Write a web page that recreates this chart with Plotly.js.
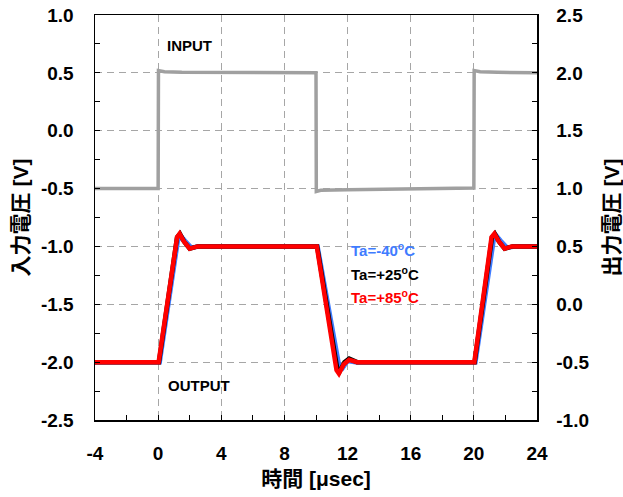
<!DOCTYPE html>
<html><head><meta charset="utf-8">
<script src="https://cdn.plot.ly/plotly-3.0.1.min.js"></script>
<style>html,body{margin:0;padding:0;background:#fff}#chart{width:623px;height:497px}</style>
</head><body><div id="chart"></div>
<script>
// Input waveform (left axis)
const tIn = [-4, 0, 0.02, 0.4, 1.5, 10, 10.02, 10.3, 12, 20, 20.02, 20.4, 21.5, 24];
const vIn = [-0.5, -0.5, 0.52, 0.51, 0.505, 0.5, -0.525, -0.515, -0.51, -0.495, 0.52, 0.51, 0.505, 0.5];

// Output waveforms (right axis)
const tM40 = [-4, 0, 0.1, 1.25, 1.45, 1.7, 2.1, 2.6, 3.2, 10, 10.1, 11.45, 11.7, 12.0, 12.5, 13.2, 20, 20.1, 21.25, 21.45, 21.7, 22.1, 22.6, 23.2, 24];
const vM40 = [-0.5, -0.5, -0.5, 0.55, 0.59, 0.55, 0.49, 0.5, 0.5, 0.5, 0.5, -0.52, -0.55, -0.49, -0.5, -0.5, -0.5, -0.5, 0.55, 0.59, 0.55, 0.49, 0.5, 0.5, 0.5];

const t25 = [-4, 0, 0.05, 1.2, 1.38, 1.65, 2.0, 2.5, 3.2, 10, 10.07, 11.35, 11.5, 11.8, 12.1, 12.6, 13.2, 20, 20.05, 21.15, 21.33, 21.6, 21.95, 22.45, 23.2, 24];
const v25 = [-0.5, -0.5, -0.5, 0.58, 0.61, 0.54, 0.48, 0.5, 0.5, 0.5, 0.5, -0.56, -0.58, -0.5, -0.47, -0.5, -0.5, -0.5, -0.5, 0.58, 0.61, 0.54, 0.48, 0.5, 0.5, 0.5];

const t85 = [-4, 0, 0.03, 1.2, 1.36, 1.6, 2.0, 2.5, 3.2, 10, 10.05, 11.3, 11.45, 11.75, 12.1, 12.6, 13.2, 20, 20.03, 21.12, 21.3, 21.55, 21.95, 22.4, 23.2, 24];
const v85 = [-0.5, -0.5, -0.5, 0.58, 0.61, 0.55, 0.48, 0.5, 0.5, 0.5, 0.5, -0.57, -0.6, -0.52, -0.48, -0.5, -0.5, -0.5, -0.5, 0.58, 0.61, 0.55, 0.48, 0.5, 0.5, 0.5];

const xTicks = [-4, 0, 4, 8, 12, 16, 20, 24];
const yLeftTicks = [-2.5, -2.0, -1.5, -1.0, -0.5, 0.0, 0.5, 1.0];
const yRightTicks = [-1.0, -0.5, 0.0, 0.5, 1.0, 1.5, 2.0, 2.5];
const seriesNames = ['Ta=-40<sup>o</sup>C', 'Ta=+25<sup>o</sup>C', 'Ta=+85<sup>o</sup>C'];

const FONT = 'Arial, "Liberation Sans", "Noto Sans CJK JP", sans-serif';
const TFONT = 'Arial, "Liberation Sans", "Noto Sans CJK JP", sans-serif';
const fmt = v => v.toFixed(1);

const traces = [
  {x: tIn, y: vIn, mode: 'lines', line: {color: '#a0a0a0', width: 3.5}, yaxis: 'y'},
  {x: tM40, y: vM40, mode: 'lines', line: {color: '#3f7cff', width: 4.5}, yaxis: 'y2'},
  {x: t25, y: v25, mode: 'lines', line: {color: '#000000', width: 4.5}, yaxis: 'y2'},
  {x: t85, y: v85, mode: 'lines', line: {color: '#ff0000', width: 4.5}, yaxis: 'y2'}
];

const gridStyle = {gridcolor: '#a6a6a6', griddash: '7px,5px', gridwidth: 1};

const layout = {
  width: 623, height: 497,
  margin: {l: 95, r: 86, t: 15, b: 77},
  paper_bgcolor: '#fff', plot_bgcolor: '#fff',
  showlegend: false,
  font: {family: FONT, size: 19, color: '#000'},
  xaxis: Object.assign({
    range: [-4, 24], tickvals: xTicks, ticktext: xTicks.map(String),
    showline: true, linecolor: '#000', linewidth: 1.5, mirror: true,
    ticks: 'inside', ticklen: 5, tickcolor: '#000',
    minor: {dtick: 2, tick0: 0, ticks: 'inside', ticklen: 5, tickcolor: '#000', showgrid: false},
    zeroline: false, showgrid: true,
    ticklabelstandoff: 16,
    tickfont: {family: FONT, size: 19, weight: 'bold'},
    title: {text: '時間 [μsec]', font: {family: TFONT, size: 21, weight: 'bold'}, standoff: 8}
  }, gridStyle),
  yaxis: Object.assign({
    range: [-2.5, 1.0], tickvals: yLeftTicks, ticktext: yLeftTicks.map(fmt),
    showline: true, linecolor: '#000', linewidth: 1.5,
    ticks: 'inside', ticklen: 5, tickcolor: '#000',
    minor: {dtick: 0.25, tick0: 0, ticks: 'inside', ticklen: 5, tickcolor: '#000', showgrid: false},
    zeroline: false, showgrid: true,
    ticklabelstandoff: 16,
    tickfont: {family: FONT, size: 19, weight: 'bold'},
    title: {text: '入力電圧 [V]', font: {family: TFONT, size: 21, weight: 'bold'}, standoff: 6}
  }, gridStyle),
  yaxis2: {
    range: [-1.0, 2.5], tickvals: yRightTicks, ticktext: yRightTicks.map(fmt),
    overlaying: 'y', side: 'right', anchor: 'x',
    showline: true, linecolor: '#000', linewidth: 1.5,
    ticks: 'inside', ticklen: 5, tickcolor: '#000',
    minor: {dtick: 0.25, tick0: 0, ticks: 'inside', ticklen: 5, tickcolor: '#000', showgrid: false},
    zeroline: false, showgrid: false,
    ticklabelstandoff: 14,
    tickfont: {family: FONT, size: 19, weight: 'bold'},
    title: {text: '出力電圧 [V]', font: {family: TFONT, size: 21, weight: 'bold'}, standoff: 22}
  },
  annotations: [
    {x: 2.0, y: 0.74, xref: 'x', yref: 'y', text: 'INPUT', showarrow: false, font: {family: FONT, size: 15, weight: 'bold', color: '#000'}},
    {x: 2.6, y: -2.2, xref: 'x', yref: 'y', text: 'OUTPUT', showarrow: false, font: {family: FONT, size: 15, weight: 'bold', color: '#000'}},
    {x: 12.1, y: 0.47, xref: 'x', yref: 'y2', xanchor: 'left', text: seriesNames[0], showarrow: false, font: {family: FONT, size: 15, weight: 'bold', color: '#3f7cff'}},
    {x: 12.1, y: 0.27, xref: 'x', yref: 'y2', xanchor: 'left', text: seriesNames[1], showarrow: false, font: {family: FONT, size: 15, weight: 'bold', color: '#000'}},
    {x: 12.1, y: 0.07, xref: 'x', yref: 'y2', xanchor: 'left', text: seriesNames[2], showarrow: false, font: {family: FONT, size: 15, weight: 'bold', color: '#ff0000'}}
  ]
};

Plotly.newPlot('chart', traces, layout, {displayModeBar: false, staticPlot: true});
</script>
</body></html>
